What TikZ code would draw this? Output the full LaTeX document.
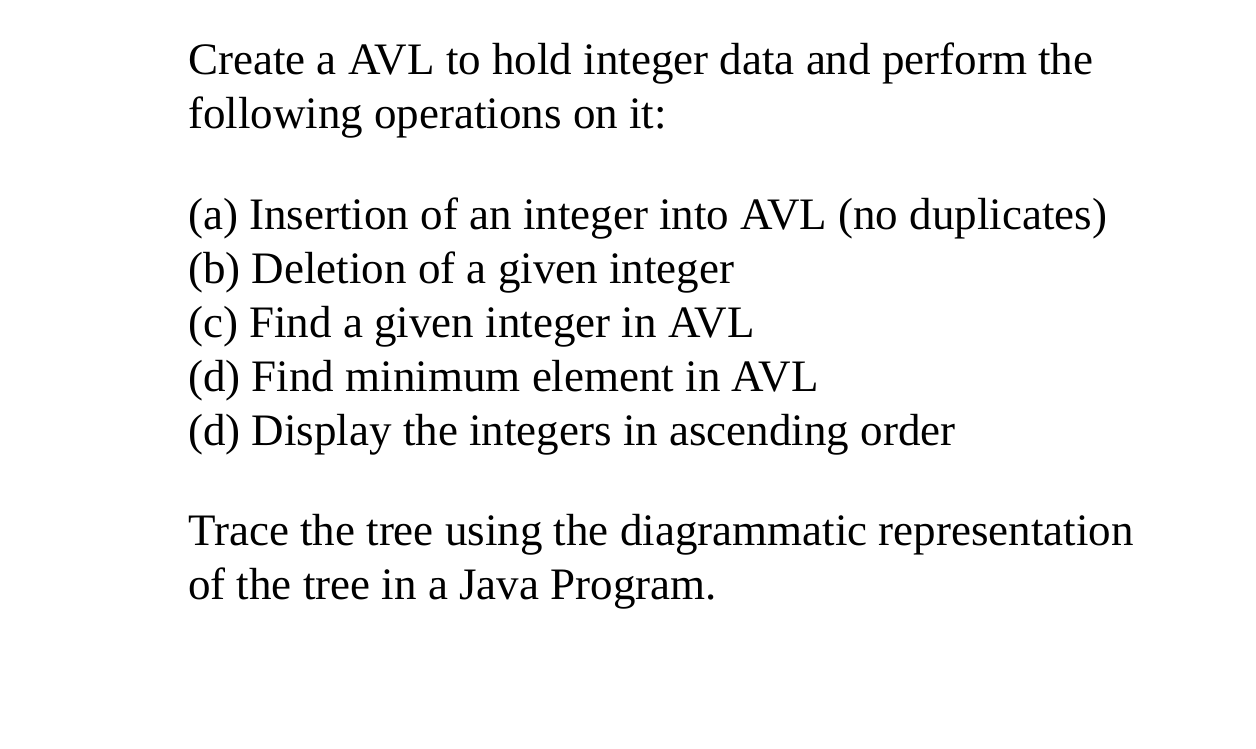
\documentclass[tikz,border=0pt]{standalone}
\usepackage{fontspec}
\setmainfont{Liberation Serif}
\begin{document}
\begin{tikzpicture}[x=1pt,y=1pt,txt/.style={anchor=base west,inner sep=0pt,font=\fontsize{45}{54}\selectfont}]
\useasboundingbox (0,0) rectangle (1256,-749);
\node[txt] (l1) at (188,-75) {Create a AVL to hold integer data and perform the};
\node[txt] (l2) at (188,-129) {following operations on it:};
\node[txt] (l3) at (188,-229) {(a) Insertion of an integer into AVL (no duplicates)};
\node[txt] (l4) at (188,-283) {(b) Deletion of a given integer};
\node[txt] (l5) at (188,-337) {(c) Find a given integer in AVL};
\node[txt] (l6) at (188,-391) {(d) Find minimum element in AVL};
\node[txt] (l7) at (188,-445) {(d) Display the integers in ascending order};
\node[txt] (l8) at (188,-545) {Trace the tree using the diagrammatic representation};
\node[txt] (l9) at (188,-599) {of the tree in a Java Program.};
\end{tikzpicture}
\end{document}
